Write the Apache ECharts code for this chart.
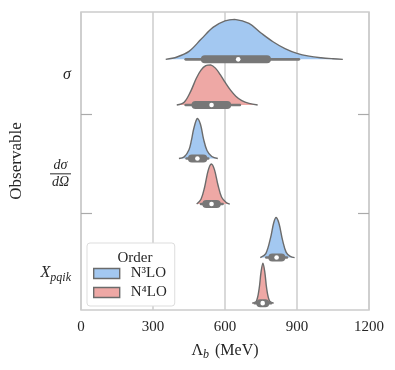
<!DOCTYPE html>
<html>
<head>
<meta charset="utf-8">
<script src="https://cdn.jsdelivr.net/npm/echarts@6/dist/echarts.min.js"></script>
<style>
  html, body { margin: 0; padding: 0; background: #fff; }
  #chart { width: 395px; height: 370px; }
</style>
</head>
<body>
<div id="chart"></div>
<script>
// categories on the y axis (top to bottom) and the two orders
const categories = ['σ', 'dσ/dΩ', 'X_pqik'];
const orders = ['N³LO', 'N⁴LO'];
const xTicks = [0, 300, 600, 900, 1200];

// violin outlines: [Lambda_b, relative density]
const sigmaN3 = [[353, 0], [400, 0.06], [450, 0.2], [500, 0.5], [550, 0.8], [600, 0.96], [640, 1], [700, 0.9], [750, 0.66], [800, 0.44], [850, 0.27], [900, 0.15], [950, 0.08], [1000, 0.04], [1050, 0.015], [1091, 0]];
const sigmaN4 = [[399, 0], [430, 0.07], [457, 0.34], [480, 0.66], [500, 0.87], [520, 0.98], [540, 1], [560, 0.92], [581, 0.75], [600, 0.57], [623, 0.37], [645, 0.22], [670, 0.11], [700, 0.04], [736, 0]];
const dsigmaN3 = [[408, 0], [430, 0.04], [450, 0.22], [460, 0.45], [470, 0.75], [485, 1], [498, 0.85], [510, 0.5], [525, 0.2], [545, 0.05], [570, 0]];
const dsigmaN4 = [[482, 0], [500, 0.12], [515, 0.42], [530, 0.84], [543, 1], [556, 0.86], [571, 0.47], [586, 0.17], [605, 0.04], [620, 0]];
const xpqikN3 = [[747, 0], [770, 0.1], [790, 0.5], [803, 0.87], [813, 1], [825, 0.85], [840, 0.43], [855, 0.13], [872, 0.03], [890, 0]];
const xpqikN4 = [[713, 0], [730, 0.04], [742, 0.35], [750, 0.77], [758, 1], [766, 0.77], [774, 0.35], [786, 0.05], [803, 0]];

// inner boxes: [whisker low, q1, median, q3, whisker high]
const boxN3 = [[436, 516, 655, 775, 908], [440, 462, 485, 510, 530], [772, 797, 815, 835, 858]];
const boxN4 = [[436, 477, 544, 609, 662], [500, 522, 544, 566, 590], [724, 747, 757, 768, 792]];

const shapes = [[sigmaN3, dsigmaN3, xpqikN3], [sigmaN4, dsigmaN4, xpqikN4]];
const boxes = [boxN3, boxN4];

const fills = ['#a3c8f1', '#eea8a5'];
const lineGray = '#6b6b6b';
const boxGray = '#777777';
const textColor = '#262626';
const baseOffset = [-0.155, 0.305];
const peakHeight = 0.404;
const serif = 'Liberation Serif';

const yLabels = [
  '{i|σ}',
  '{n|dσ}\n{bar|}\n{n|dΩ}',
  '{i|X}{sub|pqik}'
];

const chart = echarts.init(document.getElementById('chart'));

function renderViolin(params, api) {
  const s = params.seriesIndex;
  const cat = api.value(1);
  const base = cat + baseOffset[s];
  const pts = shapes[s][cat].map(p => api.coord([p[0], base - p[1] * peakHeight]));
  const b = boxes[s][cat].map(v => api.coord([v, base]));
  // keep the smoothed curve inside its own bounding box
  const xs = pts.map(p => p[0]), ys = pts.map(p => p[1]);
  const bound = [[Math.min(...xs), Math.min(...ys)], [Math.max(...xs), Math.max(...ys)]];
  return {
    type: 'group',
    children: [
      { type: 'polygon', shape: { points: pts, smooth: 0.35, smoothConstraint: bound }, style: { fill: fills[s] } },
      { type: 'polyline', shape: { points: pts, smooth: 0.35, smoothConstraint: bound }, style: { fill: null, stroke: lineGray, lineWidth: 1.4 } },
      { type: 'line', shape: { x1: b[0][0], y1: b[0][1], x2: b[4][0], y2: b[4][1] }, style: { stroke: boxGray, lineWidth: 2.6, lineCap: 'round' } },
      { type: 'line', shape: { x1: b[1][0], y1: b[1][1], x2: b[3][0], y2: b[3][1] }, style: { stroke: boxGray, lineWidth: 8, lineCap: 'round' } },
      { type: 'circle', shape: { cx: b[2][0], cy: b[2][1], r: 2.3 }, style: { fill: '#ffffff' } }
    ]
  };
}

const option = {
  animation: false,
  backgroundColor: '#ffffff',
  title: {
    text: 'Order',
    left: 130,
    top: 246,
    textAlign: 'center',
    textStyle: { fontFamily: serif, fontSize: 15, fontWeight: 'normal', color: textColor },
    z: 20
  },
  legend: {
    data: orders,
    orient: 'vertical',
    left: 87,
    top: 243,
    padding: [23, 8, 6, 6],
    itemGap: 4,
    itemWidth: 26,
    itemHeight: 10,
    icon: 'rect',
    backgroundColor: '#ffffff',
    borderColor: '#dddddd',
    borderWidth: 1,
    borderRadius: 3,
    itemStyle: { borderColor: lineGray, borderWidth: 1.4 },
    textStyle: { fontFamily: serif, fontSize: 15, color: textColor, padding: [0, 0, 0, 6] },
    z: 10
  },
  grid: {
    left: 80, top: 12, width: 289, height: 298,
    show: true, borderColor: '#cccccc', borderWidth: 1.5
  },
  xAxis: {
    type: 'value',
    min: 0, max: 1200, interval: 300,
    axisLine: { show: false },
    axisTick: { show: false },
    axisLabel: {
      margin: 10,
      fontFamily: serif, fontSize: 15, color: textColor,
      customValues: xTicks,
      formatter: v => String(v)
    },
    splitLine: { show: true, lineStyle: { color: '#cccccc', width: 1.5 } },
    name: '{l|Λ}{sub|b} (MeV)',
    nameLocation: 'middle',
    nameGap: 31,
    nameTextStyle: {
      fontFamily: serif, fontSize: 16, color: textColor,
      rich: {
        l: { fontFamily: serif, fontSize: 16, color: textColor },
        sub: { fontFamily: serif, fontSize: 12, fontStyle: 'italic', color: textColor, padding: [8, 2, 0, 0] }
      }
    }
  },
  yAxis: [
    {
      type: 'value',
      inverse: true,
      min: -0.633, max: 2.374,
      axisLine: { show: false },
      splitLine: { show: false },
      axisTick: { show: true, inside: true, length: 11, customValues: [0.397, 1.397], lineStyle: { color: '#aaaaaa', width: 1.2 } },
      axisLabel: {
        margin: 10,
        customValues: [0, 1, 2],
        formatter: v => yLabels[Math.round(v)],
        rich: {
          i: { fontFamily: serif, fontStyle: 'italic', fontSize: 16, color: textColor },
          n: { fontFamily: serif, fontStyle: 'italic', fontSize: 14, color: textColor, lineHeight: 14, align: 'center' },
          bar: { width: 21, height: 1, lineHeight: 3, backgroundColor: textColor, align: 'center' },
          sub: { fontFamily: serif, fontStyle: 'italic', fontSize: 12, color: textColor, padding: [9, 0, 0, 0] }
        }
      },
      name: 'Observable',
      nameLocation: 'middle',
      nameGap: 56,
      nameTextStyle: { fontFamily: serif, fontSize: 17, color: textColor }
    },
    {
      type: 'value',
      inverse: true,
      position: 'right',
      min: -0.633, max: 2.374,
      axisLine: { show: false },
      splitLine: { show: false },
      axisLabel: { show: false },
      axisTick: { show: true, inside: true, length: 11, customValues: [0.397, 1.397], lineStyle: { color: '#aaaaaa', width: 1.2 } }
    }
  ],
  series: orders.map((name, s) => ({
    name: name,
    type: 'custom',
    renderItem: renderViolin,
    itemStyle: { color: fills[s] },
    encode: { x: 0, y: 1 },
    data: categories.map((c, i) => [boxes[s][i][2], i])
  }))
};

chart.setOption(option);
</script>
</body>
</html>
